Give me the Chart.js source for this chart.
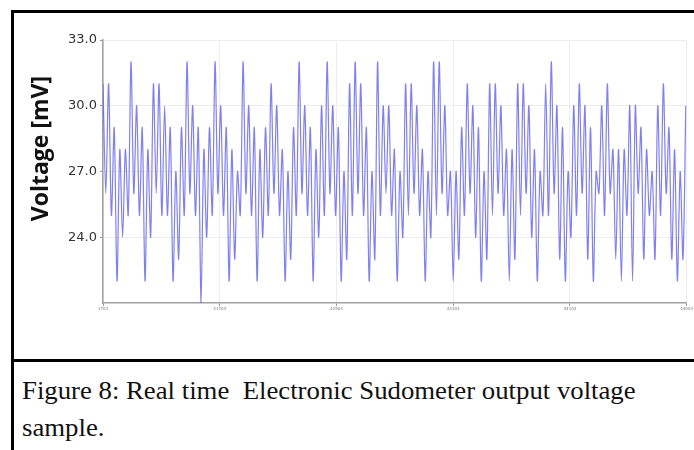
<!DOCTYPE html>
<html>
<head>
<meta charset="utf-8">
<script src="https://cdn.jsdelivr.net/npm/chart.js@4.4.1/dist/chart.umd.min.js"></script>
<style>
  html, body { margin: 0; padding: 0; background: #fff; }
  body { width: 694px; height: 450px; position: relative; overflow: hidden; }
  #frame { position: absolute; left: 11px; top: 10px; width: 700px; height: 450px;
           border-left: 3px solid #000; border-top: 3px solid #000; }
  #sep { position: absolute; left: 11px; top: 359px; width: 700px; height: 3px; background: #000; }
  #plot { position: absolute; left: 14px; top: 13px; width: 680px; height: 344px; }
  #caption { position: absolute; left: 22px; top: 372px; width: 592px;
             font-family: 'Liberation Serif', 'Times New Roman', serif; font-size: 25px;
             line-height: 37px; color: #111;
             transform: scaleX(1.07); transform-origin: 0 0; }
</style>
</head>
<body>
<div id="frame"></div>
<div id="sep"></div>
<div id="plot"><canvas id="myChart"></canvas></div>
<div id="caption">Figure 8: Real time&nbsp; Electronic Sudometer output voltage sample.</div>
<script>
'use strict';

// Lecturas de voltaje (mV), una por muestra
const voltage = [
  31, 26, 31, 25, 29, 22, 28, 24, 28, 25,
  32, 26, 30, 25, 29, 22, 28, 24, 31, 26,
  31, 25, 30, 25, 29, 22, 27, 23, 29, 25,
  32, 26, 30, 25, 29, 21, 28, 24, 29, 25,
  32, 26, 30, 25, 29, 22, 28, 23, 27, 25,
  32, 26, 30, 25, 29, 22, 28, 24, 29, 25,
  31, 26, 30, 25, 28, 22, 27, 23, 29, 25,
  32, 26, 30, 25, 29, 22, 28, 24, 30, 25,
  32, 26, 30, 25, 29, 22, 27, 23, 31, 25,
  32, 26, 31, 25, 29, 22, 27, 23, 32, 25,
  30, 26, 30, 25, 28, 22, 27, 24, 31, 25,
  31, 26, 30, 25, 28, 22, 27, 24, 32, 25,
  32, 26, 30, 25, 27, 22, 27, 23, 29, 25,
  31, 26, 30, 24, 29, 22, 27, 23, 31, 25,
  31, 26, 30, 25, 28, 22, 28, 23, 31, 25,
  31, 26, 30, 24, 28, 22, 27, 25, 31, 25,
  32, 26, 30, 23, 29, 22, 27, 24, 30, 25,
  31, 26, 30, 23, 29, 22, 27, 26, 30, 25,
  31, 26, 28, 23, 28, 22, 28, 25, 30, 22,
  30, 26, 29, 23, 28, 25, 27, 23, 30, 25,
  31, 26, 29, 23, 28, 22, 27, 23, 30
];

// Marcas del eje X (apenas legibles en el original)
const xTicks = [0, 41.66, 83.32, 124.98, 166.64, 208.3];
const xTickLabels = ['1703', '41703', '42503', '43303', '44103', '44903'];

// Marcas del eje Y
const yTicks = [24, 27, 30, 33];

const points = voltage.map((v, i) => ({ x: i, y: v }));

const ctx = document.getElementById('myChart').getContext('2d');
const myChart = new Chart(ctx, {
  type: 'line',
  data: {
    datasets: [{
      label: 'Voltage',
      data: points,
      borderColor: 'rgba(85, 85, 235, 0.75)',
      borderWidth: 1.2,
      pointRadius: 0,
      tension: 0.3,
      fill: false
    }]
  },
  options: {
    responsive: true,
    maintainAspectRatio: false,
    animation: false,
    layout: { padding: { left: 0, top: 27, right: 7, bottom: 34 } },
    plugins: { legend: { display: false }, tooltip: { enabled: false } },
    scales: {
      x: {
        type: 'linear',
        min: 0,
        max: 208.3,
        afterBuildTicks: scale => { scale.ticks = xTicks.map(v => ({ value: v })); },
        afterFit: scale => { scale.height = 20; },
        grid: { color: '#ededed', tickColor: '#999', tickLength: 3 },
        border: { color: '#a0a0a0', width: 1.5 },
        ticks: {
          font: { family: 'DejaVu Sans', size: 4 },
          color: '#777',
          padding: 1,
          maxRotation: 0,
          callback: (v, i) => xTickLabels[i]
        }
      },
      y: {
        min: 21,
        max: 33,
        afterBuildTicks: scale => { scale.ticks = yTicks.map(v => ({ value: v })); },
        afterFit: scale => { scale.width = 89; },
        grid: { color: '#ededed', tickColor: '#999', tickLength: 3 },
        border: { color: '#a0a0a0', width: 1.5 },
        ticks: {
          font: { family: 'DejaVu Sans', size: 13 },
          color: '#333',
          padding: 3,
          callback: v => v.toFixed(1)
        },
        title: {
          display: true,
          text: 'Voltage [mV]      ',
          align: 'end',
          color: '#111',
          font: { family: 'Open Sans', size: 23, weight: 'bold' },
          padding: { top: 14, bottom: 0 }
        }
      }
    }
  }
});
</script>
</body>
</html>
